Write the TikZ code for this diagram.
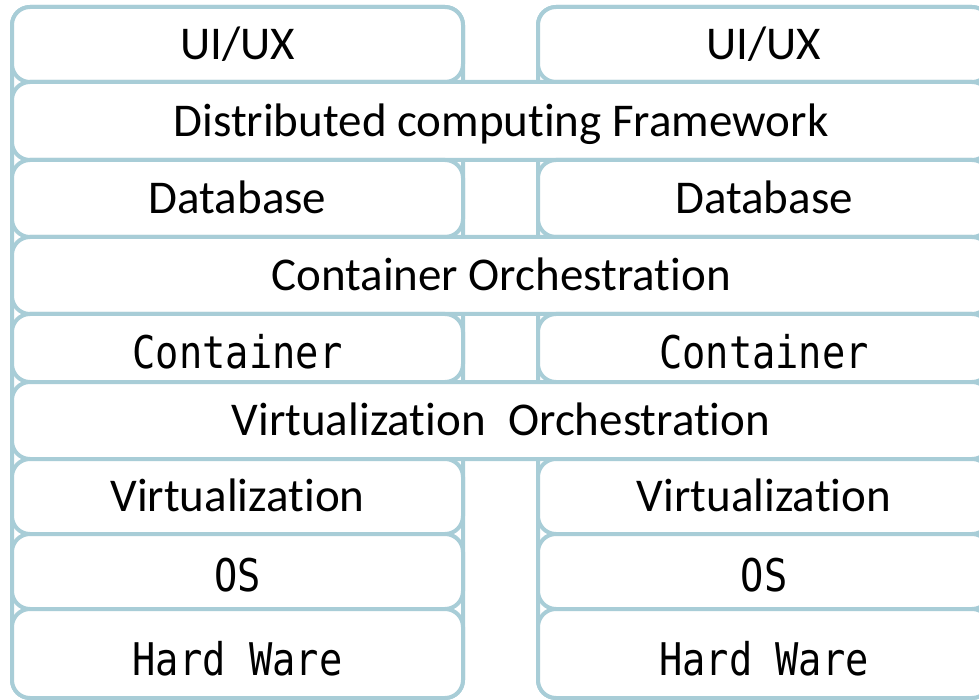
\documentclass[tikz,border=0pt]{standalone}
\usepackage{fontspec}
\setmainfont[Ligatures=NoCommon]{Carlito}
\newfontfamily\gothicmono[FakeStretch=0.86]{DejaVu Sans Mono}
\definecolor{layerline}{HTML}{A8CDD7}

\tikzset{
  layer/.style={draw=layerline, line width=4pt, fill=white,
    rounded corners=18pt, rectangle, inner sep=0pt,
    text height=0.644*47pt, text depth=0pt},
  sanslabel/.style={layer, font=\fontsize{47}{50}\selectfont},
  monolabel/.style={layer, font=\gothicmono\fontsize{45}{50}\selectfont,
    text height=0.729*45pt+8pt},
  leftcol/.style={minimum width=451pt},
  rightcol/.style={minimum width=452pt},
  widerow/.style={minimum width=978pt},
  frame/.style={draw=layerline, line width=4pt, fill=white, rounded corners=18pt}
}

\begin{document}
\begin{tikzpicture}[x=1pt, y=-1pt]
  \useasboundingbox (0,0) rectangle (979,700);
  \clip (0,0) rectangle (979,700);

  % the two stack frames
  \node[frame, minimum width=451pt, minimum height=691pt] (leftstack) at (237.5,352.5) {};
  \node[frame, minimum width=452pt, minimum height=691pt] (rightstack) at (764,352.5) {};

  % row 1
  \node[sanslabel, leftcol,  minimum height=75pt] (uiL) at (237.5,44.5) {UI/UX};
  \node[sanslabel, rightcol, minimum height=75pt] (uiR) at (764,44.5) {UI/UX};
  % row 2
  \node[sanslabel, widerow, minimum height=78pt] (dcf) at (501,121) {Distributed computing Framework};
  % row 3
  \node[sanslabel, leftcol,  minimum height=77pt] (dbL) at (237.5,198.5) {Database};
  \node[sanslabel, rightcol, minimum height=77pt] (dbR) at (764,198.5) {Database};
  % row 4
  \node[sanslabel, widerow, minimum height=77pt] (corch) at (501,275.5) {Container Orchestration};
  % row 5
  \node[monolabel, leftcol,  minimum height=68pt] (ctL) at (237.5,348) {Container};
  \node[monolabel, rightcol, minimum height=68pt] (ctR) at (764,348) {Container};
  % row 6
  \node[sanslabel, widerow, minimum height=77pt] (vorch) at (501,420.5) {Virtualization\hspace{0.25em} Orchestration};
  % row 7
  \node[sanslabel, leftcol,  minimum height=75pt] (vtL) at (237.5,496.5) {Virtualization};
  \node[sanslabel, rightcol, minimum height=75pt] (vtR) at (764,496.5) {Virtualization};
  % row 8
  \node[monolabel, leftcol,  minimum height=75pt] (osL) at (237.5,571.5) {OS};
  \node[monolabel, rightcol, minimum height=75pt] (osR) at (764,571.5) {OS};
  % row 9
  \node[monolabel, leftcol,  minimum height=89pt, text height=0.729*45pt+12pt] (hwL) at (237.5,653.5) {Hard Ware};
  \node[monolabel, rightcol, minimum height=89pt, text height=0.729*45pt+12pt] (hwR) at (764,653.5) {Hard Ware};
\end{tikzpicture}
\end{document}
